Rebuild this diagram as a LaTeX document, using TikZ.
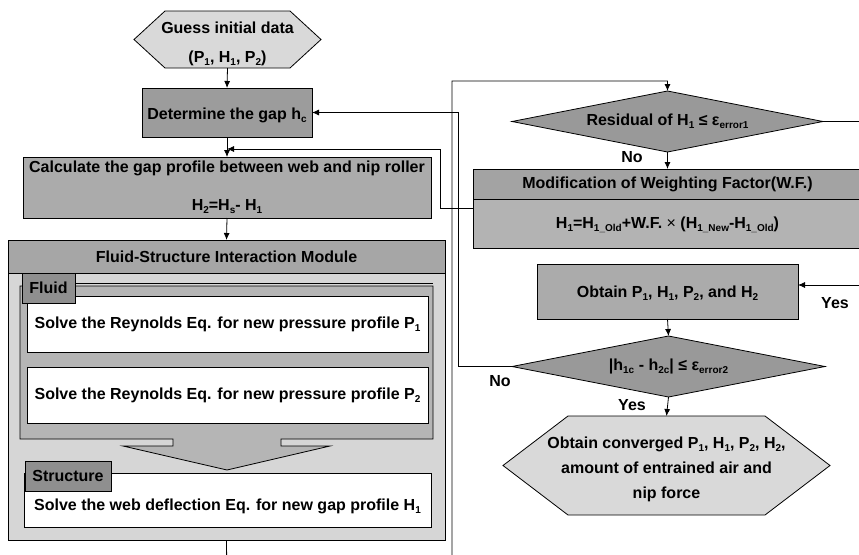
\documentclass[tikz,border=0pt]{standalone}
\usepackage{fontspec}
\setmainfont{Liberation Sans}
\usetikzlibrary{shapes.geometric,arrows.meta,calc,backgrounds}
\newcommand{\subx}[1]{\raisebox{-0.35ex}{\fontsize{10}{10}\selectfont #1}}
\definecolor{cHex}{HTML}{D9D9D9}
\definecolor{cGap}{HTML}{9C9C9C}
\definecolor{cCalc}{HTML}{ABABAB}
\definecolor{cHead}{HTML}{A6A6A6}
\definecolor{cBody}{HTML}{D6D6D6}
\definecolor{cPanel}{HTML}{B5B5B5}
\definecolor{cTab}{HTML}{8F8F8F}
\definecolor{cDia}{HTML}{999999}
\definecolor{cModH}{HTML}{A3A3A3}
\definecolor{cModB}{HTML}{B3B3B3}
\begin{document}
\begin{tikzpicture}[x=1pt,y=-1pt,
  every node/.style={font=\bfseries\fontsize{16}{18}\selectfont, inner sep=0pt, outer sep=0pt},
  box/.style={draw=black, line width=0.8pt, rectangle},
  dia/.style={diamond, aspect=5, draw=black, line width=0.8pt, fill=cDia},
  hexline/.style={draw=black, line width=0.8pt, fill=cHex},
  arr/.style={line width=0.8pt, -{Latex[length=7pt,width=6pt]}},
  conn/.style={line width=0.8pt}]

\useasboundingbox (0,0) rectangle (859,554);

% ---------- left column ----------
\node[minimum width=187pt, minimum height=57pt] (guess) at (227.5,39.5) {};
\begin{scope}[on background layer]
\draw[hexline] (guess.west) -- ([xshift=31pt]guess.north west) -- ([xshift=-31pt]guess.north east)
  -- (guess.east) -- ([xshift=-31pt]guess.south east) -- ([xshift=31pt]guess.south west) -- cycle;
\end{scope}
\node[align=center] (guesst) at (227.5,43.5)
  {Guess initial data\\[11pt](P\subx{1}, H\subx{1}, P\subx{2})};

\node[box, fill=cGap, minimum width=170pt, minimum height=49pt] (gap) at (227,112.5) {};
\node (gapt) at (227,115) {Determine the gap h\subx{c}};

\node[box, fill=cCalc, minimum width=408pt, minimum height=61pt, align=center] (calc) at (227,187.5)
  {Calculate the gap profile between web and nip roller\\[20pt]H\subx{2}=H\subx{s}- H\subx{1}};

% Fluid-structure interaction module
\node[box, fill=cBody, minimum width=437pt, minimum height=300pt] (fsi) at (226.5,390) {};
\node[box, fill=cHead, minimum width=437pt, minimum height=33pt] (fsihead) at (226.5,256.5)
  {Fluid-Structure Interaction Module};

% fluid panel with block arrow
\draw[conn, fill=cPanel] (20,286) -- (433,286) -- (433,439) -- (281,439) -- (281,446) -- (330,446)
  -- (227,470) -- (123,446) -- (173,446) -- (173,439) -- (20,439) -- cycle;
\draw[conn] (75,283) -- (433,283);

\node[box, fill=white, minimum width=401pt, minimum height=56pt] (p1) at (227.5,324)
  {Solve the Reynolds Eq. for new pressure profile P\subx{1}};
\node[box, fill=white, minimum width=401pt, minimum height=56pt] (p2) at (227.5,395)
  {Solve the Reynolds Eq. for new pressure profile P\subx{2}};
\node[box, fill=cTab, minimum width=53pt, minimum height=30pt] (ftab) at (48.5,288) {Fluid};

\node[box, fill=white, minimum width=407pt, minimum height=54pt] (sbox) at (227.5,500) {};
\node (stext) at (227.5,506) {Solve the web deflection Eq. for new gap profile H\subx{1}};
\node[box, fill=cTab, minimum width=86pt, minimum height=30pt] (stab) at (68,476) {Structure};

% ---------- right column ----------
\node[dia, minimum width=311pt, minimum height=61pt] (res) at (667.5,121.5)
  {Residual of H\subx{1} ≤ ε\subx{error1}};

\node[box, fill=cModB, minimum width=389pt, minimum height=79pt] (mod) at (667.5,208.5) {};
\node[box, fill=cModH, minimum width=389pt, minimum height=30pt, anchor=north] (modh) at (mod.north)
  {Modification of Weighting Factor(W.F.)};
\node (modt) at (667.5,225)
  {H\subx{1}=H\subx{1\_Old}+W.F. {\mdseries ×} (H\subx{1\_New}-H\subx{1\_Old})};

\node[box, fill=cCalc, minimum width=261pt, minimum height=55pt] (obt) at (667.5,291.5) {};
\node (obtt) at (667.5,293) {Obtain P\subx{1}, H\subx{1}, P\subx{2}, and H\subx{2}};

\node[dia, minimum width=313pt, minimum height=61pt] (d2) at (668.5,366.5)
  {|h\subx{1c} - h\subx{2c}| ≤ ε\subx{error2}};

\node[minimum width=327pt, minimum height=99pt] (fin) at (666.5,465.5) {};
\begin{scope}[on background layer]
\draw[hexline] (fin.west) -- ([xshift=65pt]fin.north west) -- ([xshift=-65pt]fin.north east)
  -- (fin.east) -- ([xshift=-65pt]fin.south east) -- ([xshift=65pt]fin.south west) -- cycle;
\end{scope}
\node[align=center] (fint) at (666.5,469.5)
  {Obtain converged P\subx{1}, H\subx{1}, P\subx{2}, H\subx{2},\\[7pt]amount of entrained air and\\[7pt]nip force};

% ---------- labels ----------
\node (lno1) at (632,157) {No};
\node (lyes1) at (835,303) {Yes};
\node (lno2) at (500,381) {No};
\node (lyes2) at (632,405) {Yes};

% ---------- connectors ----------
\coordinate (lpA) at (227,600);
\coordinate (lpB) at (452,600);
\coordinate (lpC) at (452,81);
\coordinate (rtA) at (890,121.5);
\coordinate (obtIn) at ($(obt.east)+(0,-6.5)$);
\coordinate (mA) at (440,149);
\coordinate (j1) at (227,149);
\coordinate (dA) at (458,366.5);

\draw[arr] (guess.south) -- (gap.north);
\draw[arr] (gap.south) -- (calc.north);
\draw[arr] (calc.south) -- (fsihead.north);
\draw[arr] (fsi.south) -- (lpA) -- (lpB) -- (lpC) -| (res.north);
\draw[arr] (res.south) -- (mod.north);
\draw[arr] (res.east) -- (rtA) |- (obtIn);
\draw[arr] (mod.west) -| (mA) -- (j1);
\draw[arr] (obt.south) -- (d2.north);
\draw[arr] (d2.west) -- (dA) |- (gap.east);
\draw[arr] (d2.south) -- (fin.north);
\end{tikzpicture}
\end{document}
